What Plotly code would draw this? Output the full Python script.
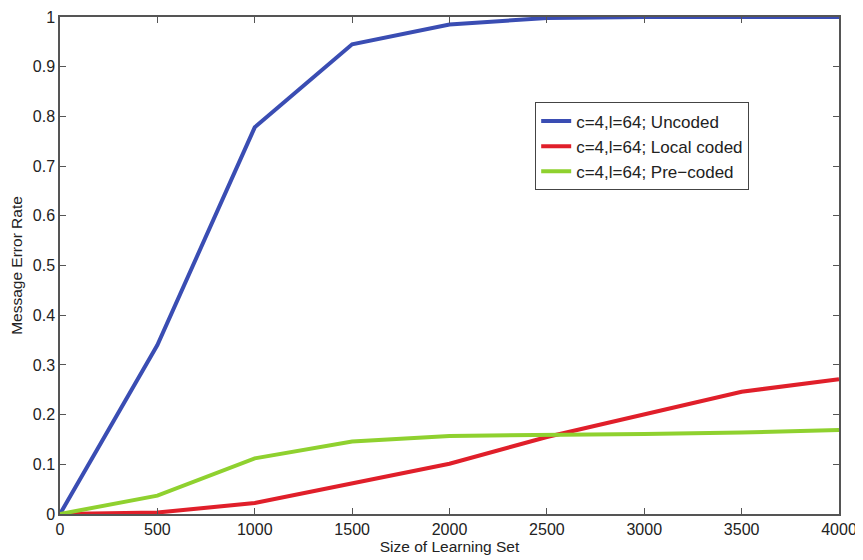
import plotly.graph_objects as go

x = [0, 500, 1000, 1500, 2000, 2500, 3000, 3500, 4000]
uncoded = [0, 0.34, 0.778, 0.945, 0.985, 0.998, 1.0, 1.0, 1.0]
local_coded = [0, 0.003, 0.022, 0.062, 0.101, 0.155, 0.2, 0.246, 0.271]
pre_coded = [0, 0.037, 0.112, 0.146, 0.157, 0.158, 0.161, 0.164, 0.169]

names = ["c=4,l=64; Uncoded", "c=4,l=64; Local coded", "c=4,l=64; Pre\u2212coded"]
colors = ["#3a4db3", "#e01f2a", "#8fd12f"]

fig = go.Figure()
for i, (ys, n, c) in enumerate(zip([uncoded, local_coded, pre_coded], names, colors)):
    fig.add_trace(go.Scatter(x=x, y=ys, mode="lines", name=n,
                             line=dict(color=c, width=4)))

axis_common = dict(showline=True, linecolor="#555555", linewidth=1.5, mirror="ticks",
                   ticks="inside", ticklen=6, tickcolor="#555555", showgrid=False,
                   zeroline=False, automargin=False, ticklabeloverflow="allow",
                   tickfont=dict(size=16, color="#222222"))

# page body has an 8px margin, so the figure is made 8px smaller and margins offset
fig.update_layout(
    width=855, height=552,
    margin=dict(l=52, r=24, t=9, b=46),
    plot_bgcolor="white", paper_bgcolor="white",
    font=dict(family="Liberation Sans, Arial, sans-serif", color="#222222"),
    xaxis=dict(range=[0, 4000], tickvals=list(range(0, 4001, 500)),
               title=dict(text="Size of Learning Set", font=dict(size=15.5), standoff=0),
               **axis_common),
    yaxis=dict(range=[0, 1], tickvals=[i / 10 for i in range(11)],
               ticktext=["0", "0.1", "0.2", "0.3", "0.4", "0.5", "0.6", "0.7", "0.8", "0.9", "1"],
               title=dict(text="Message Error Rate", font=dict(size=15.5), standoff=6),
               **axis_common),
    legend=dict(x=0.61, y=0.828, xanchor="left", yanchor="top",
                bgcolor="white", bordercolor="#444444", borderwidth=1,
                font=dict(size=17), tracegroupgap=0),
    showlegend=True,
)

fig.write_html("out.html")
